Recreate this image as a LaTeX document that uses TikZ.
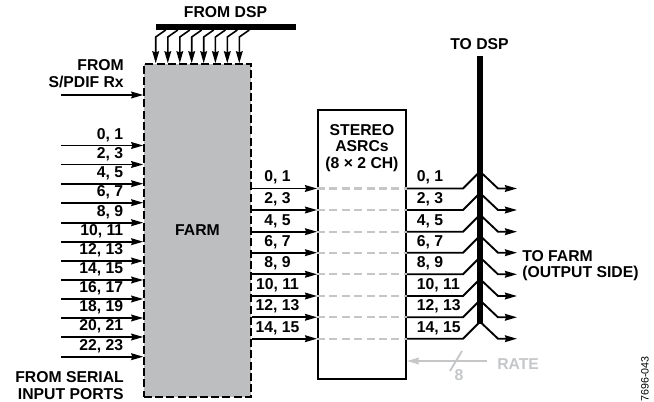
\documentclass[tikz,border=0pt]{standalone}
\usepackage{fontspec}
\setmainfont{Liberation Sans}
\usepackage{xcolor}
\usetikzlibrary{arrows.meta,positioning,calc}
\definecolor{farmgray}{HTML}{BCBEC0}
\definecolor{rategray}{HTML}{C4C6C8}

\begin{document}
\begin{tikzpicture}[
  x=0.75pt, y=-0.75pt,
  every node/.style={font=\fontsize{11.8pt}{12.4pt}\selectfont\bfseries, inner sep=0pt},
  farmbox/.style={draw, dash pattern=on 6pt off 2.4pt, line width=1.1pt, fill=farmgray, minimum width=80.25pt, minimum height=249.75pt},
  asrcbox/.style={draw, line width=1.4pt, minimum width=66pt, minimum height=201.75pt},
  bus/.style={fill=black, draw=none},
  arr/.style={-{Stealth[length=9pt, width=5pt, inset=0.8pt]}, line width=1.4pt},
  wire/.style={line width=1.4pt},
  grayarr/.style={-{Stealth[length=9pt, width=5pt, inset=0.8pt]}, line width=1.4pt, draw=rategray},
  graydash/.style={draw=rategray, line width=1.7pt, dash pattern=on 6pt off 3.3pt},
  lbl/.style={align=right, anchor=east}
]
\useasboundingbox (0,0) rectangle (654,402);

\node[farmbox] (farm) at (197.5,230.5) {FARM};
\node[asrcbox] (asrc) at (362,244.5) {};
\node[align=center] (asrctxt) at (362,148) {STEREO\\ASRCs\\(8 × 2 CH)};
\node[bus, minimum width=105pt, minimum height=4.5pt] (dspin) at (226,27) {};
\node[bus, minimum width=4.8pt, minimum height=201pt] (dspout) at (480,190) {};

\node (fromdsp) at (225.5,12.5) {FROM DSP};
\node (todsp) at (479.5,44) {TO DSP};
\node[lbl] (spdif) at (124,73.5) {FROM\\S/PDIF Rx};
\node[lbl] (serial) at (124,385.5) {FROM SERIAL\\INPUT PORTS};
\node[align=left, anchor=west] (tofarm) at (522,265.5) {TO FARM\\(OUTPUT SIDE)};

% from DSP bus
\foreach \x [count=\i] in {155.7,167.8,179.8,191.7,203.7,215.4,227.3,239.3} {
  \coordinate (top\i) at (\x+10,30);
  \coordinate (kink\i) at (\x,37);
  \draw[arr, line width=1.2pt] (top\i) -- (kink\i) -- (kink\i |- farm.north);
}

% serial inputs
\coordinate (inspdif) at (61,95);
\draw[arr] (inspdif) -- (inspdif -| farm.west);
\foreach \y/\txt [count=\i] in {145.5/{0, 1},164.5/{2, 3},183.7/{4, 5},202.7/{6, 7},222.7/{8, 9},241.7/{10, 11},261/{12, 13},280/{14, 15},299/{16, 17},318/{18, 19},337/{20, 21},356.7/{22, 23}} {
  \coordinate (in\i) at (61,\y);
  \draw[arr] (in\i) -- (in\i -| farm.west);
  \node[lbl] (inlbl\i) at (123.5,\y-10.3) {\txt};
}

% asrc channels
\foreach \y/\txt [count=\i] in {188.5/{0, 1},210/{2, 3},231.7/{4, 5},252.7/{6, 7},274.3/{8, 9},296/{10, 11},317.3/{12, 13},338.7/{14, 15}} {
  \coordinate (mid\i) at (farm.east |- 0,\y);
  \coordinate (ain\i) at (asrc.west |- 0,\y);
  \coordinate (aout\i) at (asrc.east |- 0,\y);
  \coordinate (up\i) at (463,\y);
  \coordinate (tap\i) at (480,\y-17);
  \coordinate (down\i) at (498,\y);
  \coordinate (outend\i) at (517,\y);
  \draw[graydash] (ain\i) -- (aout\i);
  \draw[arr] (mid\i) -- (ain\i);
  \draw[wire] (aout\i) -- (up\i) -- (tap\i);
  \draw[arr] (tap\i) -- (down\i) -- (outend\i);
  \node (minlbl\i) at (277.5,\y-10.8) {\txt};
  \node[anchor=west] (outlbl\i) at (416.7,\y-10.8) {\txt};
}

% rate input
\node[text=rategray, anchor=west] (rate) at (497,364.5) {RATE};
\node[text=rategray] (ratenum) at (459,375) {8};
\coordinate (ratestart) at (487,361);
\draw[grayarr] (ratestart) -- (ratestart -| asrc.east);
\coordinate (slasha) at (450,371);
\coordinate (slashb) at (462,351);
\draw[draw=rategray, line width=1.4pt] (slasha) -- (slashb);

\node[rotate=90, font=\fontsize{8pt}{9pt}\selectfont] (figno) at (645,379) {7696-043};
\end{tikzpicture}
\end{document}
